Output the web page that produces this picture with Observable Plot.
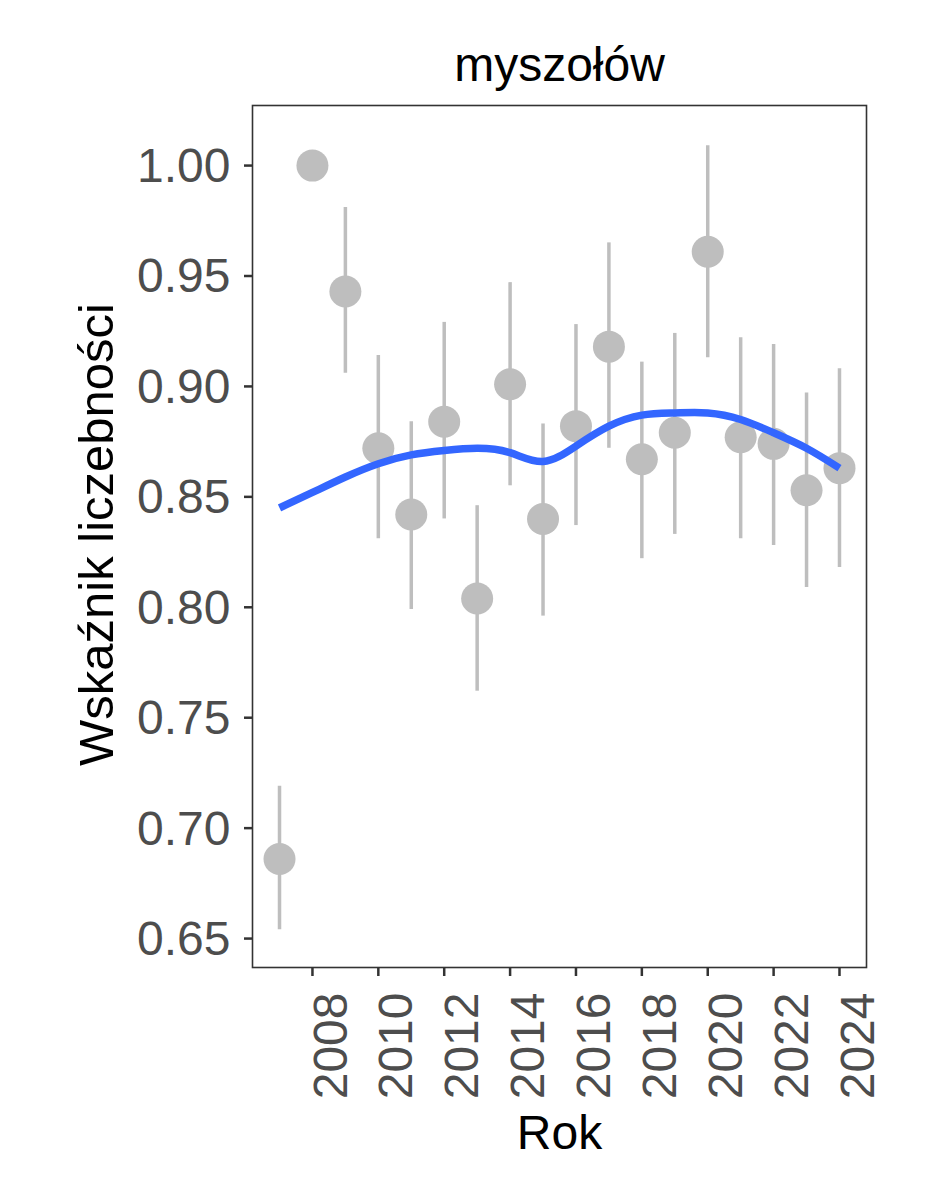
<!DOCTYPE html>
<html>
<head>
<meta charset="utf-8">
<script src="https://cdn.jsdelivr.net/npm/d3@7"></script>
<script src="https://cdn.jsdelivr.net/npm/@observablehq/plot@0.6"></script>
<style>
  html, body { margin: 0; padding: 0; background: white; }
</style>
</head>
<body>
<div id="chart"></div>
<script>
const title = "myszołów";
const xLabel = "Rok";
const yLabel = "Wskaźnik liczebności";

const years = [2007, 2008, 2009, 2010, 2011, 2012, 2013, 2014, 2015, 2016, 2017, 2018, 2019, 2020, 2021, 2022, 2023, 2024];
const index = [0.686, 1.000, 0.943, 0.872, 0.842, 0.884, 0.804, 0.901, 0.840, 0.882, 0.918, 0.867, 0.879, 0.961, 0.877, 0.874, 0.853, 0.863];
const lower = [0.654, null, 0.906, 0.831, 0.799, 0.840, 0.762, 0.855, 0.796, 0.837, 0.872, 0.822, 0.833, 0.913, 0.831, 0.828, 0.809, 0.818];
const upper = [0.719, null, 0.981, 0.914, 0.884, 0.929, 0.846, 0.947, 0.883, 0.928, 0.965, 0.911, 0.924, 1.009, 0.922, 0.919, 0.897, 0.908];
const trend = [0.845, 0.852, 0.859, 0.865, 0.869, 0.871, 0.872, 0.870, 0.866, 0.873, 0.882, 0.887, 0.888, 0.888, 0.885, 0.879, 0.872, 0.863];

const xTicks = [2008, 2010, 2012, 2014, 2016, 2018, 2020, 2022, 2024];
const yTicks = [0.65, 0.70, 0.75, 0.80, 0.85, 0.90, 0.95, 1.00];

const points = years.map((year, i) => ({year, value: index[i], lo: lower[i], hi: upper[i]}));
const bars = points.filter(d => d.lo != null && d.hi != null);
const smooth = years.map((year, i) => ({year, value: trend[i]}));

const FONT = "'Liberation Sans', Arial, Helvetica, sans-serif";
const FS = 48;

const chart = Plot.plot({
  width: 944,
  height: 1181,
  marginLeft: 252,
  marginRight: 78,
  marginTop: 105,
  marginBottom: 214,
  style: {fontFamily: FONT, background: "white", overflow: "visible"},
  x: {domain: [2006.18, 2024.82]},
  y: {domain: [0.6369, 1.0272]},
  marks: [
    Plot.frame({stroke: "#333333", strokeWidth: 1.6}),
    Plot.ruleX(bars, {x: "year", y1: "lo", y2: "hi", stroke: "#BEBEBE", strokeWidth: 3.5}),
    Plot.dot(points, {x: "year", y: "value", r: 16, fill: "#BEBEBE", stroke: "none"}),
    Plot.line(smooth, {x: "year", y: "value", stroke: "#3366FF", strokeWidth: 7.5, curve: "natural", strokeLinecap: "butt"}),
    // y axis ticks and labels
    Plot.axisY({ticks: yTicks, tickSize: 8, text: null, stroke: "#333333", strokeWidth: 2.5, label: null}),
    Plot.axisY({ticks: yTicks, tickSize: 0, tickPadding: 22, tickFormat: d3.format(".2f"),
      fontSize: FS, fill: "#4D4D4D", label: null, dy: 1}),
    // x axis ticks and labels
    Plot.axisX({ticks: xTicks, tickSize: 9, text: null, stroke: "#333333", strokeWidth: 2.5, label: null}),
    Plot.axisX({ticks: xTicks, tickSize: 0, tickPadding: 25, tickRotate: -90, lineAnchor: "top",
      tickFormat: d => String(d), fontSize: FS, fill: "#4D4D4D", label: null}),
    // titles
    Plot.text([title], {frameAnchor: "top", lineAnchor: "bottom", dy: -25, fontSize: FS, fill: "#000"}),
    Plot.text([xLabel], {frameAnchor: "bottom", lineAnchor: "bottom", dy: 181, fontSize: FS, fill: "#000"}),
    Plot.text([yLabel], {frameAnchor: "left", rotate: -90, lineAnchor: "bottom", textAnchor: "middle", dx: -140, dy: -2, fontSize: 49, fill: "#000"})
  ]
});
document.getElementById("chart").appendChild(chart);
</script>
</body>
</html>
